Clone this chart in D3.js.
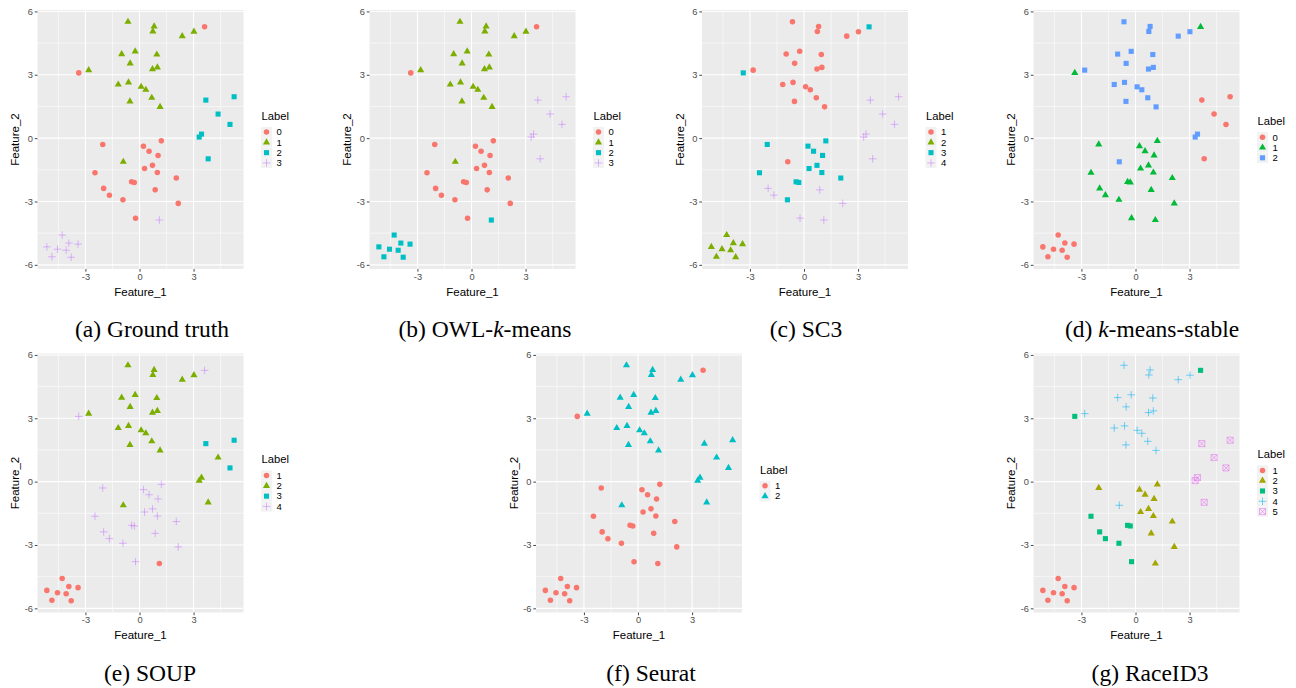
<!DOCTYPE html>
<html><head><meta charset="utf-8">
<script src="https://cdn.jsdelivr.net/npm/d3@7"></script>
<style>
body{margin:0;background:#fff;}
svg{display:block;}
text{font-family:"Liberation Sans",Arial,sans-serif;}
.cap{font-family:"Liberation Serif","Times New Roman",serif;}
</style>
</head><body>
<svg id="chart" width="1296" height="688"></svg>
<script>
// ---------------- data ----------------
const feature1 = [
  -0.64, 0.81, 0.74, 2.37, 3.02, -0.99, -0.24, 0.96, -0.52, 0.72,
   0.99, -2.82, -1.18, -0.61, 0.09, 0.35, 0.68, -0.53, 1.14, -0.90,
   3.61, -3.37, -2.04, 0.22, 0.53, 1.21, 1.03, 0.72, 0.28, 0.99,
  -2.47, 2.04, -0.44, -0.29, -1.99, 0.87, -1.67, -0.92, 2.15, -0.22,
   3.68, 5.25, 4.36, 5.02, 3.44, 3.31, 3.81,
   1.10, -4.29, -5.14, -4.55, -4.07, -3.92, -3.41, -4.86, -3.79
];
const feature2 = [
   5.51, 5.29, 5.05, 4.83, 5.04, 3.98, 4.11, 3.96, 3.54, 3.27,
   3.35, 3.22, 2.54, 2.64, 2.43, 2.29, 1.91, 1.74, 1.48, -1.12,
   5.27, 3.09, -0.30, -0.38, -0.62, -0.13, -0.82, -1.29, -1.44, -1.63,
  -1.64, -1.89, -2.07, -2.10, -2.38, -2.45, -2.70, -2.92, -3.09, -3.79,
   1.80, 1.96, 1.14, 0.65, 0.19, 0.05, -0.98,
  -3.88, -4.59, -5.15, -5.26, -5.31, -4.97, -5.02, -5.62, -5.64
];
const xTicks = [-3, 0, 3];
const yTicks = [-6, -3, 0, 3, 6];

const labelsGroundTruth = [1,1,1,1,1,1,1,1,1,1,1,1,1,1,1,1,1,1,1,1, 0,0,0,0,0,0,0,0,0,0,0,0,0,0,0,0,0,0,0,0, 2,2,2,2,2,2,2, 3,3,3,3,3,3,3,3,3];
const labelsOWL = [1,1,1,1,1,1,1,1,1,1,1,1,1,1,1,1,1,1,1,1, 0,0,0,0,0,0,0,0,0,0,0,0,0,0,0,0,0,0,0,0, 3,3,3,3,3,3,3, 2,2,2,2,2,2,2,2,2];
const labelsSC3 = [1,1,1,1,1,1,1,1,1,1,1,1,1,1,1,1,1,1,1,1, 3,3,3,3,3,3,3,3,3,3,3,3,3,3,4,4,4,3,4,4, 4,4,4,4,4,4,4, 4,2,2,2,2,2,2,2,2];
const labelsKMeansStable = [2,2,2,2,2,2,2,2,2,2,2,2,2,2,2,2,2,2,2,2, 1,1,1,1,1,1,1,1,1,1,1,1,1,1,1,1,1,1,1,1, 0,0,0,0,2,2,0, 1,0,0,0,0,0,0,0,0];
const labelsSOUP = [2,2,2,2,2,2,2,2,2,2,2,2,2,2,2,2,2,2,2,2, 4,4,4,4,4,4,4,4,4,4,4,4,4,4,4,4,4,4,4,4, 3,3,2,3,2,2,2, 1,1,1,1,1,1,1,1,1];
const labelsSeurat = [2,2,2,2,2,2,2,2,2,2,2,2,2,2,2,2,2,2,2,2, 1,1,1,1,1,1,1,1,1,1,1,1,1,1,1,1,1,1,1,1, 2,2,2,2,2,2,2, 1,1,1,1,1,1,1,1,1];
const labelsRaceID3 = [4,4,4,4,4,4,4,4,4,4,4,4,4,4,4,4,4,4,4,4, 3,3,2,2,2,2,2,2,2,2,3,2,3,3,3,2,3,3,2,3, 5,5,5,5,5,5,5, 2,1,1,1,1,1,1,1,1];

const levelsGroundTruth = [0,1,2,3];
const levelsOWL = [0,1,2,3];
const levelsSC3 = [1,2,3,4];
const levelsKMeansStable = [0,1,2];
const levelsSOUP = [1,2,3,4];
const levelsSeurat = [1,2];
const levelsRaceID3 = [1,2,3,4,5];

const captionLetters = ["a","b","c","d","e","f","g"];
const captionNames = ["Ground truth","OWL-|k|-means","SC3","|k|-means-stable","SOUP","Seurat","RaceID3"];

// ---------------- layout / style ----------------
const panelDefs = [
  {labels: labelsGroundTruth, levels: levelsGroundTruth, left: 37.5, top: 10, capX: 152},
  {labels: labelsOWL, levels: levelsOWL, left: 369.5, top: 10, capX: 485},
  {labels: labelsSC3, levels: levelsSC3, left: 702, top: 10, capX: 806},
  {labels: labelsKMeansStable, levels: levelsKMeansStable, left: 1033.5, top: 10, capX: 1152},
  {labels: labelsSOUP, levels: levelsSOUP, left: 37.5, top: 353.5, capX: 150},
  {labels: labelsSeurat, levels: levelsSeurat, left: 536, top: 353.5, capX: 651},
  {labels: labelsRaceID3, levels: levelsRaceID3, left: 1033.5, top: 353.5, capX: 1150}
];
const PW = 206, PH = 259;
const palettes = {
  2: ["#F8766D","#00BFC4"],
  3: ["#F8766D","#00BA38","#619CFF"],
  4: ["#F8766D","#7CAE00","#00BFC4","#C77CFF"],
  5: ["#F8766D","#A3A500","#00BF7D","#00B0F6","#E76BF3"]
};
const shapeNames = ["circle","triangle","square","plus","boxcross"];

const svg = d3.select("#chart");

function ggDomain(vals){
  const e = d3.extent(vals), p = (e[1]-e[0])*0.05;
  return [e[0]-p, e[1]+p];
}
const xDom = ggDomain(feature1), yDom = ggDomain(feature2);

function drawShape(sel, shape, color){
  if (shape === "circle") {
    sel.append("path").attr("d", d3.symbol(d3.symbolCircle, 24)()).attr("fill", color);
  } else if (shape === "triangle") {
    sel.append("path").attr("d", d3.symbol(d3.symbolTriangle, 22)()).attr("fill", color);
  } else if (shape === "square") {
    sel.append("path").attr("d", d3.symbol(d3.symbolSquare, 26)()).attr("fill", color);
  } else if (shape === "plus") {
    sel.append("path").attr("d", "M-3.8,0H3.8M0,-3.8V3.8")
      .attr("stroke", color).attr("stroke-width", 0.9).attr("stroke-opacity", 0.6).attr("fill","none");
  } else {
    sel.append("path").attr("d", "M-3,-3H3V3H-3ZM-3,-3L3,3M3,-3L-3,3")
      .attr("stroke", color).attr("stroke-width", 0.9).attr("stroke-opacity", 0.6).attr("fill","none");
  }
}

panelDefs.forEach((pd, pi) => {
  const x = d3.scaleLinear().domain(xDom).range([pd.left, pd.left + PW]);
  const y = d3.scaleLinear().domain(yDom).range([pd.top + PH, pd.top]);
  const g = svg.append("g");
  const pal = palettes[pd.levels.length];

  g.append("rect").attr("x", pd.left).attr("y", pd.top).attr("width", PW).attr("height", PH).attr("fill", "#EBEBEB");

  const xMinor = xTicks.slice(0,-1).map((t,i)=>(t+xTicks[i+1])/2)
      .concat([xTicks[0]-(xTicks[1]-xTicks[0])/2, xTicks[xTicks.length-1]+(xTicks[1]-xTicks[0])/2]);
  const yMinor = yTicks.slice(0,-1).map((t,i)=>(t+yTicks[i+1])/2);
  xMinor.filter(v=>v>xDom[0]&&v<xDom[1]).forEach(v=>{
    g.append("line").attr("x1", x(v)).attr("x2", x(v)).attr("y1", pd.top).attr("y2", pd.top+PH)
      .attr("stroke","#fff").attr("stroke-width",0.55);
  });
  yMinor.filter(v=>v>yDom[0]&&v<yDom[1]).forEach(v=>{
    g.append("line").attr("y1", y(v)).attr("y2", y(v)).attr("x1", pd.left).attr("x2", pd.left+PW)
      .attr("stroke","#fff").attr("stroke-width",0.55);
  });
  xTicks.forEach(v=>{
    g.append("line").attr("x1", x(v)).attr("x2", x(v)).attr("y1", pd.top).attr("y2", pd.top+PH)
      .attr("stroke","#fff").attr("stroke-width",1.1);
  });
  yTicks.forEach(v=>{
    g.append("line").attr("y1", y(v)).attr("y2", y(v)).attr("x1", pd.left).attr("x2", pd.left+PW)
      .attr("stroke","#fff").attr("stroke-width",1.1);
  });

  const fmt = d => String(d);
  const xAxis = d3.axisBottom(x).tickValues(xTicks).tickSize(2.7).tickPadding(1.5).tickFormat(fmt);
  const yAxis = d3.axisLeft(y).tickValues(yTicks).tickSize(2.7).tickPadding(1.8).tickFormat(fmt);
  const gx = g.append("g").attr("transform", `translate(0,${pd.top+PH})`).call(xAxis);
  const gy = g.append("g").attr("transform", `translate(${pd.left},0)`).call(yAxis);
  [gx, gy].forEach(a=>{
    a.select(".domain").remove();
    a.selectAll("line").attr("stroke","#333").attr("stroke-width",0.9);
    a.selectAll("text").attr("fill","#4D4D4D").style("font-size","9.3px").style("font-family","'Liberation Sans',Arial,sans-serif");
  });

  g.append("text").attr("x", pd.left + PW/2).attr("y", pd.top + PH + 22.5).attr("dy","0.35em")
    .attr("text-anchor","middle").style("font-size","11.5px").attr("fill","#000").text("Feature_1");
  g.append("text").attr("transform", `translate(${pd.left-22.5},${pd.top+PH/2}) rotate(-90)`).attr("dy","0.35em")
    .attr("text-anchor","middle").style("font-size","11.5px").attr("fill","#000").text("Feature_2");

  const pts = g.append("g");
  feature1.forEach((fx, i) => {
    const li = pd.levels.indexOf(pd.labels[i]);
    const p = pts.append("g").attr("transform", `translate(${x(fx)},${y(feature2[i])})`);
    drawShape(p, shapeNames[li], pal[li]);
  });

  const n = pd.levels.length, step = 10.3;
  const cy = pd.top + PH/2;
  const titleY = cy - (16 + (n-1)*step)/2;
  const lx = pd.left + PW;
  g.append("text").attr("x", lx + 18).attr("y", titleY).attr("dy","0.35em")
    .style("font-size","11.2px").attr("fill","#000").text("Label");
  pd.levels.forEach((lv, k) => {
    const ky = titleY + 16 + k*step;
    g.append("rect").attr("x", lx + 17.5).attr("y", ky - step/2).attr("width", 11).attr("height", step).attr("fill","#F2F2F2");
    const kg = g.append("g").attr("transform", `translate(${lx+23},${ky})`);
    drawShape(kg, shapeNames[k], pal[k]);
    g.append("text").attr("x", lx + 33).attr("y", ky).attr("dy","0.35em")
      .style("font-size","9.5px").attr("fill","#000").text(lv);
  });

  const capY = pd.top < 100 ? 337 : 680.5;
  const cap = svg.append("text").attr("class","cap").attr("x", pd.capX).attr("y", capY)
    .attr("text-anchor","middle").style("font-size","23.5px").attr("fill","#000");
  cap.append("tspan").text(`(${captionLetters[pi]}) `);
  captionNames[pi].split("|").forEach((part, j) => {
    if (!part) return;
    const t = cap.append("tspan").text(part);
    if (j % 2 === 1) t.style("font-style","italic");
  });
});
</script>
</body></html>
